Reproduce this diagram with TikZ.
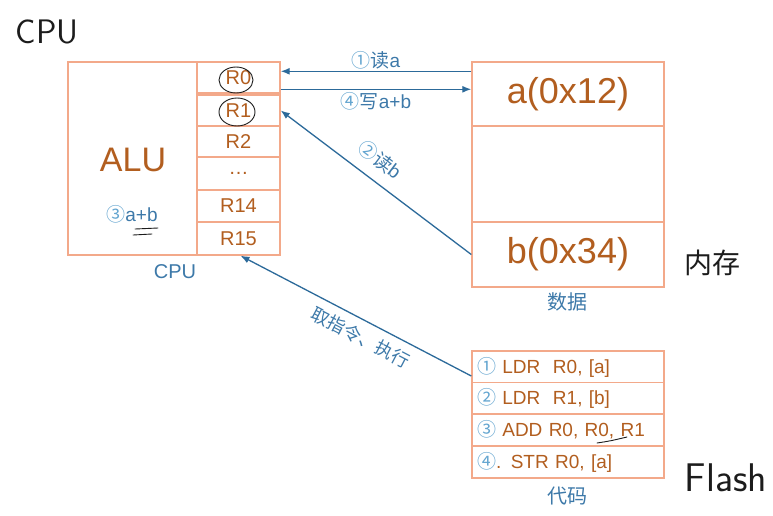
\documentclass[tikz,border=0pt]{standalone}
\usepackage{fontspec}
\setmainfont{Liberation Sans}
\newfontfamily\cjk{Noto Sans CJK SC}
\usepackage{tikz}
\usetikzlibrary{arrows.meta,positioning}
\definecolor{CellEdge}{HTML}{F3A98A}
\definecolor{CellText}{HTML}{B25E1F}
\definecolor{BusBlue}{HTML}{2C6A9A}
\definecolor{NoteBlue}{HTML}{3D79A9}
\definecolor{NumBlue}{HTML}{63A5D0}
\definecolor{PenInk}{HTML}{1C1C1C}
\newcommand{\circnum}[1]{{\cjk\color{NumBlue}#1}}
\tikzset{
  cellbox/.style={draw=CellEdge, line width=1.4pt, fill=white, inner sep=0pt, text=CellText, font=\fontsize{19}{19}\selectfont},
  regcell/.style={cellbox, minimum width=83pt, font=\fontsize{20}{20}\selectfont},
  memcell/.style={cellbox, minimum width=192pt, font=\fontsize{36}{36}\selectfont},
  codecell/.style={cellbox, minimum width=192pt, minimum height=32pt, inner xsep=5pt, text width=182pt, align=left},
  bigtext/.style={text=CellText, font=\fontsize{34}{34}\selectfont},
  notetext/.style={text=NoteBlue, font=\fontsize{19}{19}\selectfont},
  captext/.style={text=NoteBlue, font=\cjk\fontsize{20}{20}\selectfont},
  buslabel/.style={text=NoteBlue, font=\fontsize{19}{19}\selectfont, inner sep=2pt},
  busarrow/.style={-{Latex[length=9pt,width=7pt]}, line width=1.3pt, draw=BusBlue},
  pen/.style={draw=PenInk, line width=0.9pt, line cap=round},
  pentext/.style={text=PenInk, font=\sffamily\fontsize{34}{34}\selectfont}
}
\begin{document}
\begin{tikzpicture}[x=1pt, y=-1pt]
\path[fill=white, use as bounding box] (0,0) rectangle (773,515);
% CPU
\node[cellbox, minimum width=129pt, minimum height=193pt] (alu) at (132.5,158.5) {};
\node[bigtext] (alutxt) at (133,160) {ALU};
\node[notetext] (sum) at (132,214) {\circnum{③}a+b};
\foreach \n/\y/\h/\t in {r0/77.5/31pt/R0, r1/110.5/31pt/R1, r2/141.5/31pt/R2, rd/173.5/33pt/…, r14/206/32pt/R14, r15/238.5/33pt/R15}
  \node[regcell, minimum height=\h] (\n) at (238.5,\y) {\t};
\node[captext, font=\fontsize{20}{20}\selectfont] (cpucap) at (175,272) {CPU};
% data memory
\node[memcell, minimum height=64pt] (mema) at (568,94) {a(0x12)};
\node[memcell, minimum height=96pt] (memm) at (568,174) {};
\node[memcell, minimum height=65pt] (memb) at (568,254.5) {b(0x34)};
\node[captext] (memcap) at (567,302) {数据};
% code
\foreach \n/\y/\t in {c1/367/{\circnum{①} LDR\ \ R0, [a]}, c2/398.5/{\circnum{②} LDR\ \ R1, [b]}, c3/430/{\circnum{③} ADD R0, R0, R1}, c4/462/{\circnum{④}. STR R0, [a]}}
  \node[codecell] (\n) at (568,\y) {\t};
\node[captext] (codecap) at (567,496) {代码};
% buses
\draw[busarrow] ([yshift=-10pt]mema.north west) -- node[buslabel, above] {\circnum{①}{\cjk 读}a} ([yshift=-10pt]r0.north east);
\draw[busarrow] ([yshift=-28pt]r0.north east) -- node[buslabel, below] {\circnum{④}{\cjk 写}a+b} ([yshift=-28pt]mema.north west);
\draw[busarrow] (memb.west) -- node[buslabel, above=9pt, sloped, pos=0.545] {\circnum{②}{\cjk 读}b} (r1.east);
\draw[busarrow] ([yshift=-9pt]c1.west) -- node[buslabel, below=6pt, sloped, pos=0.445, font=\cjk\fontsize{18}{18}\selectfont] {取指令、执行} ([xshift=2pt]r15.south);
% handwriting
\node[pentext] (hcpu) at (47,32) {CPU};
\node[pentext, font=\cjk\fontsize{28}{28}\selectfont] (hmem) at (712,263) {内存};
\node[pentext, font=\sffamily\fontsize{40}{40}\selectfont] (hflash) at (726,478) {Flash};
\draw[pen] (r0.center) ++(-2.5,2.5) ellipse [x radius=17pt, y radius=13pt];
\draw[pen] (r1.center) ++(-1.5,1.5) ellipse [x radius=18pt, y radius=14pt];
\draw[pen] (135,229) -- (158,228);
\draw[pen] (133,235) -- (152,234);
\draw[pen] (597,443) .. controls (610,441) .. (627,437);
\end{tikzpicture}
\end{document}
